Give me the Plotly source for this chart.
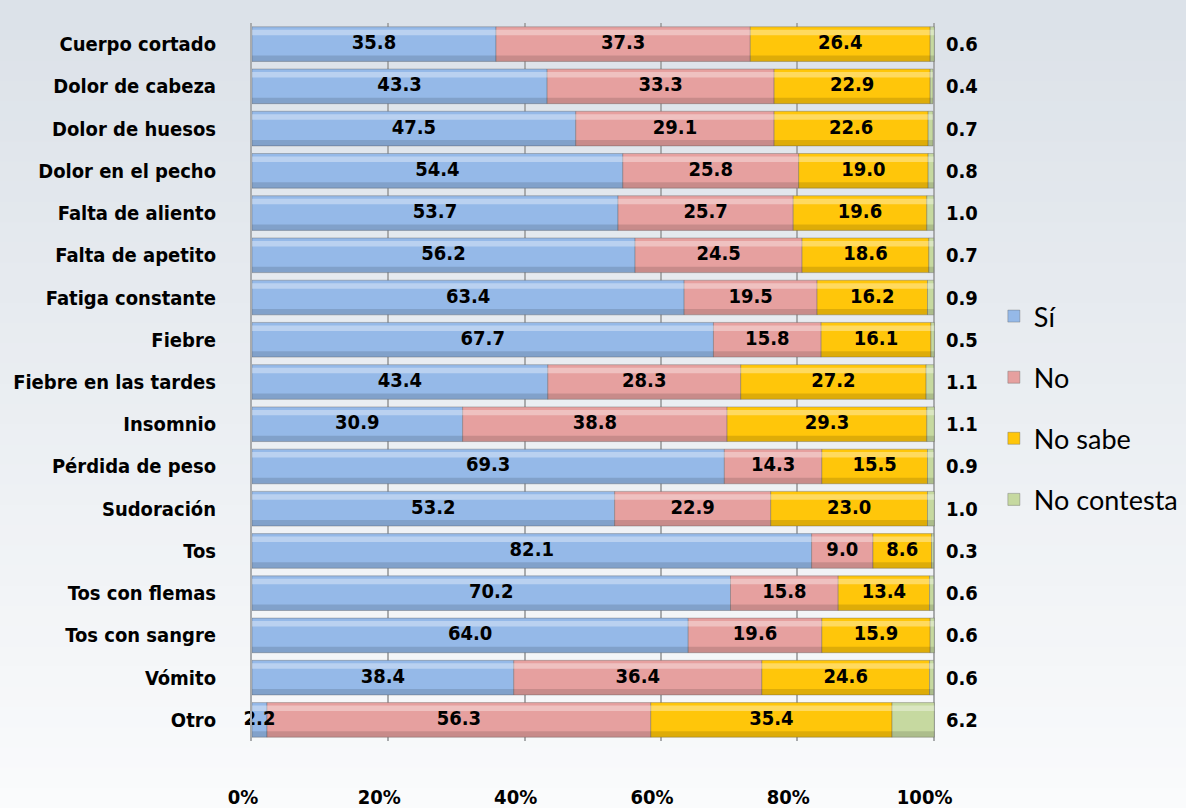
import plotly.graph_objects as go

categories = [
    "Cuerpo cortado", "Dolor de cabeza", "Dolor de huesos", "Dolor en el pecho",
    "Falta de aliento", "Falta de apetito", "Fatiga constante", "Fiebre",
    "Fiebre en las tardes", "Insomnio", "Pérdida de peso", "Sudoración",
    "Tos", "Tos con flemas", "Tos con sangre", "Vómito", "Otro",
]
si = [35.8, 43.3, 47.5, 54.4, 53.7, 56.2, 63.4, 67.7, 43.4, 30.9, 69.3, 53.2, 82.1, 70.2, 64.0, 38.4, 2.2]
no = [37.3, 33.3, 29.1, 25.8, 25.7, 24.5, 19.5, 15.8, 28.3, 38.8, 14.3, 22.9, 9.0, 15.8, 19.6, 36.4, 56.3]
no_sabe = [26.4, 22.9, 22.6, 19.0, 19.6, 18.6, 16.2, 16.1, 27.2, 29.3, 15.5, 23.0, 8.6, 13.4, 15.9, 24.6, 35.4]
no_contesta = [0.6, 0.4, 0.7, 0.8, 1.0, 0.7, 0.9, 0.5, 1.1, 1.1, 0.9, 1.0, 0.3, 0.6, 0.6, 0.6, 6.2]

tick_vals = [0, 20, 40, 60, 80, 100]
tick_text = ["0%", "20%", "40%", "60%", "80%", "100%"]

series = [
    ("Sí", si, "#95b9e8"),
    ("No", no, "#e6a09f"),
    ("No sabe", no_sabe, "#ffc60a"),
    ("No contesta", no_contesta, "#c6d9a0"),
]

FONT = "DejaVu Sans Condensed, Liberation Sans Narrow, sans-serif"
W, H = 1186, 808
M = {"l": 252, "r": 251, "t": 23, "b": 67}

fig = go.Figure()
base = [0.0] * len(categories)
for name, values, color in series:
    fig.add_trace(
        go.Bar(
            y=categories,
            x=values,
            base=base,
            orientation="h",
            name=name,
            legendgroup=name,
            width=0.82,
            marker={"color": color, "line": {"color": "rgba(90,90,90,0.35)", "width": 1}},
            hoverinfo="x+y+name",
        )
    )
    if name != "No contesta":
        fig.add_trace(
            go.Scatter(
                y=categories,
                x=[b + v / 2 for b, v in zip(base, values)],
                mode="text",
                text=[f"{v:.1f}" for v in values],
                textposition="middle center",
                textfont={"family": FONT, "size": 20, "color": "#000000", "weight": "bold"},
                showlegend=False,
                hoverinfo="skip",
                cliponaxis=False,
            )
        )
    base = [b + v for b, v in zip(base, values)]

totals = base

# cylinder shading: soft highlight near the top, darker band near the bottom
fig.add_trace(go.Bar(y=categories, x=totals, orientation="h", base=0, width=0.13, offset=-0.34,
                     marker={"color": "rgba(255,255,255,0.35)", "line": {"width": 0}},
                     showlegend=False, hoverinfo="skip"))
fig.add_trace(go.Bar(y=categories, x=totals, orientation="h", base=0, width=0.14, offset=0.27,
                     marker={"color": "rgba(0,0,0,0.13)", "line": {"width": 0}},
                     showlegend=False, hoverinfo="skip"))

# "No contesta" values written to the right of the bars
for cat, v in zip(categories, no_contesta):
    fig.add_annotation(
        x=100, y=cat, xref="x", yref="y", text=f"{v:.1f}", showarrow=False,
        xanchor="left", xshift=10,
        font={"family": FONT, "size": 20, "color": "#000000", "weight": "bold"},
    )

# vertical background gradient (grey at the top fading to white)
ph = H - M["t"] - M["b"]
bands = 40
for i in range(bands):
    f = i / (bands - 1)
    r = int(220 + (250 - 220) * f)
    g = int(226 + (251 - 226) * f)
    b = int(233 + (252 - 233) * f)
    y_top = 1 + M["t"] / ph - i * (H / ph) / bands
    y_bot = y_top - (H / ph) / bands - 0.002
    fig.add_shape(type="rect", xref="paper", yref="paper", x0=-0.5, x1=1.5, y0=y_bot, y1=y_top,
                  fillcolor=f"rgb({r},{g},{b})", line={"width": 0}, layer="below")

fig.update_layout(
    barmode="overlay",
    width=W,
    height=H,
    margin=M,
    paper_bgcolor="#f2f4f6",
    plot_bgcolor="rgba(0,0,0,0)",
    font={"family": FONT, "color": "#000000"},
    legend={
        "xref": "container",
        "yref": "container",
        "x": 0.838,
        "y": 0.495,
        "xanchor": "left",
        "yanchor": "middle",
        "font": {"family": "Lato, Open Sans, sans-serif", "size": 27},
        "tracegroupgap": 23,
        "itemwidth": 30,
        "bgcolor": "rgba(0,0,0,0)",
    },
)
fig.update_xaxes(
    range=[0, 100.2],
    tickvals=tick_vals,
    ticktext=tick_text,
    tickfont={"family": FONT, "size": 20, "weight": "bold"},
    ticklabelstandoff=42,
    ticklabelshift=-9,
    automargin=False,
    showgrid=True,
    gridcolor="#a9abad",
    gridwidth=2,
    zeroline=False,
    showline=False,
    ticks="",
)
fig.update_yaxes(
    range=[len(categories) - 0.5, -0.5],
    tickfont={"family": FONT, "size": 20, "weight": "bold"},
    ticklabelstandoff=30,
    automargin=False,
    showline=True,
    linecolor="#a9abad",
    linewidth=2,
    ticks="",
    showgrid=False,
)

fig.write_html(
    "out.html",
    config={"displayModeBar": False},
    post_script="document.body.style.margin = '0';",
)
